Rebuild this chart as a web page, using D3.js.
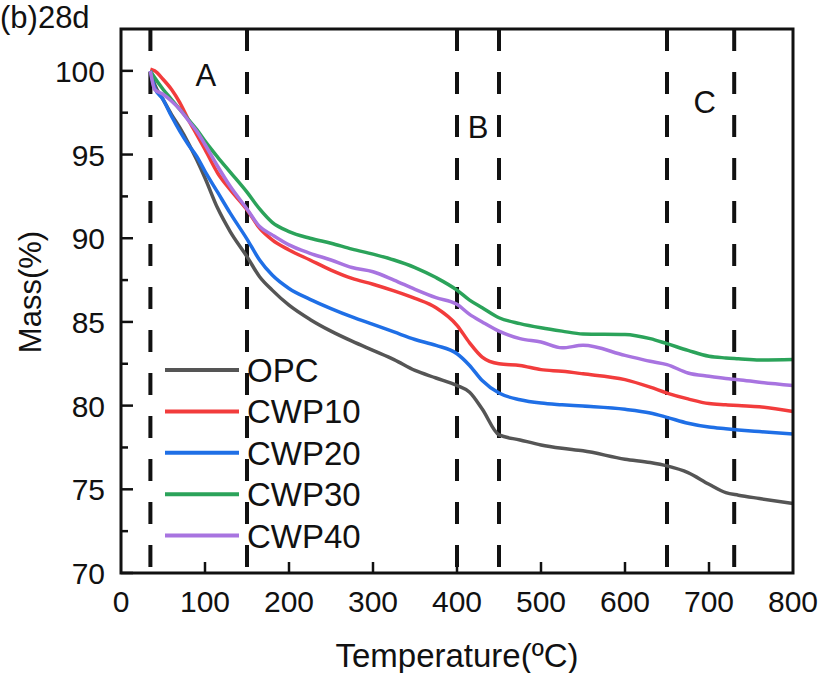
<!DOCTYPE html>
<html>
<head>
<meta charset="utf-8">
<script src="https://cdn.jsdelivr.net/npm/d3@7"></script>
<style>
  body { margin: 0; background: #fff; }
  text { font-family: Arial, "Liberation Sans", sans-serif; fill: #111; }
</style>
</head>
<body>
<script>
// temperature grid (°C) shared by all series
var temps = [35, 40, 50, 60, 70, 80, 90, 100, 115, 130, 150, 165, 180, 200, 225, 250, 275, 300, 325, 350,
  375, 400, 415, 430, 450, 475, 500, 525, 550, 600, 630, 650, 675, 700, 720, 735, 760, 800];

var opc = [100, 99.2, 98.3, 97.4, 96.6, 95.7, 94.7, 93.6, 91.8, 90.4, 88.9, 87.7, 86.9, 86.0, 85.15, 84.45, 83.85, 83.3, 82.75, 82.1,
  81.65, 81.2, 80.8, 79.8, 78.25, 77.95, 77.65, 77.45, 77.3, 76.8, 76.6, 76.4, 76.0, 75.3, 74.8, 74.65, 74.45, 74.15];
var cwp10 = [100.1, 100.0, 99.5, 98.9, 98.1, 97.1, 96.2, 95.3, 93.9, 92.9, 91.7, 90.6, 89.9, 89.3, 88.7, 88.1, 87.6, 87.25, 86.85, 86.4,
  85.85, 84.8, 83.75, 82.9, 82.5, 82.4, 82.15, 82.05, 81.9, 81.55, 81.1, 80.75, 80.4, 80.12, 80.05, 80.0, 79.93, 79.65];
var cwp20 = [100, 99.0, 98.3, 97.3, 96.4, 95.6, 94.9, 94.0, 92.75, 91.5, 89.95, 88.7, 87.8, 87.0, 86.35, 85.8, 85.3, 84.85, 84.4, 83.95,
  83.6, 83.1, 82.4, 81.5, 80.75, 80.35, 80.15, 80.05, 79.97, 79.78, 79.56, 79.3, 78.95, 78.72, 78.62, 78.55, 78.45, 78.3];
var cwp30 = [100, 99.6, 98.9, 98.3, 97.7, 97.1, 96.5, 95.8, 94.85, 93.95, 92.75, 91.75, 90.95, 90.4, 90.0, 89.7, 89.35, 89.05, 88.7, 88.25,
  87.65, 86.9, 86.3, 85.85, 85.25, 84.9, 84.65, 84.45, 84.28, 84.25, 84.0, 83.7, 83.3, 82.95, 82.85, 82.8, 82.72, 82.75];
var cwp40 = [100, 98.9, 98.6, 98.2, 97.7, 97.05, 96.4, 95.6, 94.3, 93.1, 91.75, 90.7, 90.2, 89.6, 89.1, 88.7, 88.25, 88.0, 87.5, 86.95,
  86.45, 86.05, 85.45, 85.0, 84.45, 84.0, 83.8, 83.45, 83.6, 83.0, 82.65, 82.45, 81.95, 81.75, 81.62, 81.55, 81.4, 81.2];

var names = ["OPC", "CWP10", "CWP20", "CWP30", "CWP40"];
var colors = ["#555555", "#f23c3c", "#1f6fe6", "#2ba35a", "#a874e0"];
var seriesValues = [opc, cwp10, cwp20, cwp30, cwp40];

var xTicks = [0, 100, 200, 300, 400, 500, 600, 700, 800];
var yTicks = [70, 75, 80, 85, 90, 95, 100];
var dashAt = [35, 150, 400, 450, 650, 730];
var regions = [{t: "A", x: 101, y: 99.1}, {t: "B", x: 425, y: 96.0}, {t: "C", x: 695, y: 97.5}];

var W = 823, H = 673;
var mL = 121, mR = 793, mT = 29, mB = 573;

var svg = d3.select("body").append("svg").attr("width", W).attr("height", H);

var x = d3.scaleLinear().domain([0, 800]).range([mL, mR]);
var y = d3.scaleLinear().domain([70, 102.5]).range([mB, mT]);

// dashed region separators
svg.append("g").selectAll("line").data(dashAt).enter().append("line")
  .attr("x1", function (d) { return x(d); }).attr("x2", function (d) { return x(d); })
  .attr("y1", mT).attr("y2", mB)
  .attr("stroke", "#111").attr("stroke-width", 4)
  .attr("stroke-dasharray", "22,21");

// ticks (inward)
svg.append("g").selectAll("line").data(xTicks.slice(1, -1)).enter().append("line")
  .attr("x1", function (d) { return x(d); }).attr("x2", function (d) { return x(d); })
  .attr("y1", mB).attr("y2", mB - 11)
  .attr("stroke", "#111").attr("stroke-width", 2.5);

var yMinor = d3.range(72.5, 102.5, 5);
svg.append("g").selectAll("line").data(yTicks.concat(yMinor)).enter().append("line")
  .attr("x1", mL).attr("x2", function (d) { return mL + (d % 5 === 0 ? 12 : 7); })
  .attr("y1", function (d) { return y(d); }).attr("y2", function (d) { return y(d); })
  .attr("stroke", "#111").attr("stroke-width", 2.5);

// tick labels
svg.append("g").selectAll("text").data(xTicks).enter().append("text")
  .attr("x", function (d) { return x(d); }).attr("y", 612)
  .attr("text-anchor", "middle").style("font-size", "30px")
  .text(function (d) { return d; });

svg.append("g").selectAll("text").data(yTicks).enter().append("text")
  .attr("x", 105).attr("y", function (d) { return y(d) + 11; })
  .attr("text-anchor", "end").style("font-size", "30px")
  .text(function (d) { return d; });

// data lines
var line = d3.line()
  .x(function (d) { return x(d[0]); })
  .y(function (d) { return y(d[1]); })
  .curve(d3.curveMonotoneX);

svg.append("g").selectAll("path").data(seriesValues).enter().append("path")
  .attr("d", function (vals) { return line(temps.map(function (t, i) { return [t, vals[i]]; })); })
  .attr("fill", "none")
  .attr("stroke", function (d, i) { return colors[i]; })
  .attr("stroke-width", 3.5)
  .attr("stroke-linejoin", "round");

// frame
svg.append("rect").attr("x", mL).attr("y", mT)
  .attr("width", mR - mL).attr("height", mB - mT)
  .attr("fill", "none").attr("stroke", "#111").attr("stroke-width", 3);

// region letters
svg.append("g").selectAll("text").data(regions).enter().append("text")
  .attr("x", function (d) { return x(d.x); }).attr("y", function (d) { return y(d.y); })
  .attr("text-anchor", "middle").style("font-size", "31px")
  .text(function (d) { return d.t; });

// legend
var leg = svg.append("g").selectAll("g").data(names).enter().append("g")
  .attr("transform", function (d, i) { return "translate(165," + (370 + i * 41.4) + ")"; });
leg.append("line").attr("x1", 0).attr("x2", 74).attr("y1", 0).attr("y2", 0)
  .attr("stroke", function (d, i) { return colors[i]; }).attr("stroke-width", 4);
leg.append("text").attr("x", 82).attr("y", 12).style("font-size", "33px")
  .text(function (d) { return d; });

// titles
svg.append("text").attr("x", (mL + mR) / 2).attr("y", 667)
  .attr("text-anchor", "middle").style("font-size", "33px")
  .text("Temperature(\u00BAC)");

svg.append("text").attr("transform", "translate(41,292) rotate(-90)")
  .attr("text-anchor", "middle").style("font-size", "31px")
  .text("Mass(%)");

svg.append("text").attr("x", 0).attr("y", 28).style("font-size", "31px")
  .text("(b)28d");
</script>
</body>
</html>
